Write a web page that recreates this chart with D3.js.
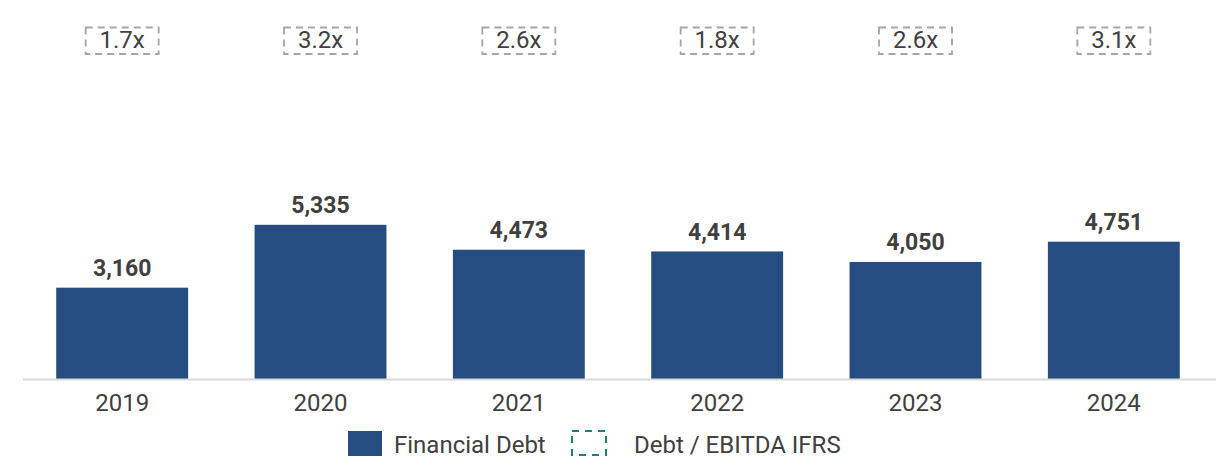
<!DOCTYPE html>
<html lang="en">
<head>
    <meta charset="UTF-8">
    <title>Financial Debt</title>
    <script src="https://d3js.org/d3.v7.min.js"></script>
    <style>
        body {
            margin: 0;
            background: #fff;
            font-family: Roboto, Arial, sans-serif;
        }
        svg {
            display: block;
        }
    </style>
</head>
<body>
    <div id="container"></div>
    <script>
        // Data
        const years = ['2019', '2020', '2021', '2022', '2023', '2024'];
        const debt = [3160, 5335, 4473, 4414, 4050, 4751];
        const ratioLabels = ['1.7x', '3.2x', '2.6x', '1.8x', '2.6x', '3.1x'];

        const width = 1216;
        const height = 459;
        const baseline = 379;

        const svg = d3.select('#container')
            .append('svg')
            .attr('width', width)
            .attr('height', height);

        // Scales
        const x = d3.scaleBand()
            .domain(years)
            .range([23, 1213])
            .paddingInner(0.335)
            .paddingOuter(0.1675);

        const y = d3.scaleLinear()
            .domain([0, 6000])
            .range([baseline, baseline - 173.4]);

        // Bars
        svg.selectAll('.bar')
            .data(years)
            .enter()
            .append('rect')
            .attr('class', 'bar')
            .attr('x', d => x(d))
            .attr('y', (d, i) => y(debt[i]))
            .attr('width', x.bandwidth())
            .attr('height', (d, i) => y(0) - y(debt[i]))
            .attr('fill', '#264d81');

        // Baseline
        svg.append('line')
            .attr('x1', 23)
            .attr('x2', width)
            .attr('y1', baseline + 0.5)
            .attr('y2', baseline + 0.5)
            .attr('stroke', '#d9d9d9')
            .attr('stroke-width', 2);

        // Value labels
        svg.selectAll('.value')
            .data(years)
            .enter()
            .append('text')
            .attr('class', 'value')
            .attr('x', d => x(d) + x.bandwidth() / 2)
            .attr('y', (d, i) => y(debt[i]) - 11.5)
            .attr('text-anchor', 'middle')
            .attr('font-size', 23)
            .attr('font-weight', 700)
            .attr('fill', '#404040')
            .text((d, i) => d3.format(',')(debt[i]));

        // Year labels
        svg.selectAll('.year')
            .data(years)
            .enter()
            .append('text')
            .attr('class', 'year')
            .attr('x', d => x(d) + x.bandwidth() / 2)
            .attr('y', baseline + 32)
            .attr('text-anchor', 'middle')
            .attr('font-size', 24)
            .attr('fill', '#404040')
            .text(d => d);

        // Debt / EBITDA boxes
        const boxes = svg.selectAll('.ratio')
            .data(years)
            .enter()
            .append('g')
            .attr('class', 'ratio')
            .attr('transform', d => `translate(${x(d) + x.bandwidth() / 2},0)`);

        boxes.append('rect')
            .attr('x', -36.5)
            .attr('y', 27.5)
            .attr('width', 73)
            .attr('height', 26.5)
            .attr('fill', 'none')
            .attr('stroke', '#a6a6a6')
            .attr('stroke-width', 1.8)
            .attr('stroke-dasharray', '7,5');

        boxes.append('text')
            .attr('x', 0)
            .attr('y', 47.5)
            .attr('text-anchor', 'middle')
            .attr('font-size', 24)
            .attr('fill', '#404040')
            .text((d, i) => ratioLabels[i]);

        // Legend
        const legend = svg.append('g');

        legend.append('rect')
            .attr('x', 348)
            .attr('y', 431)
            .attr('width', 34)
            .attr('height', 25)
            .attr('fill', '#264d81');

        legend.append('text')
            .attr('x', 394)
            .attr('y', 453)
            .attr('font-size', 24)
            .attr('fill', '#404040')
            .text('Financial Debt');

        legend.append('rect')
            .attr('x', 572)
            .attr('y', 431)
            .attr('width', 34)
            .attr('height', 24)
            .attr('fill', 'none')
            .attr('stroke', '#1e7f7c')
            .attr('stroke-width', 2)
            .attr('stroke-dasharray', '7,6');

        legend.append('text')
            .attr('x', 634)
            .attr('y', 453)
            .attr('font-size', 24)
            .attr('fill', '#404040')
            .text('Debt / EBITDA IFRS');
    </script>
</body>
</html>
